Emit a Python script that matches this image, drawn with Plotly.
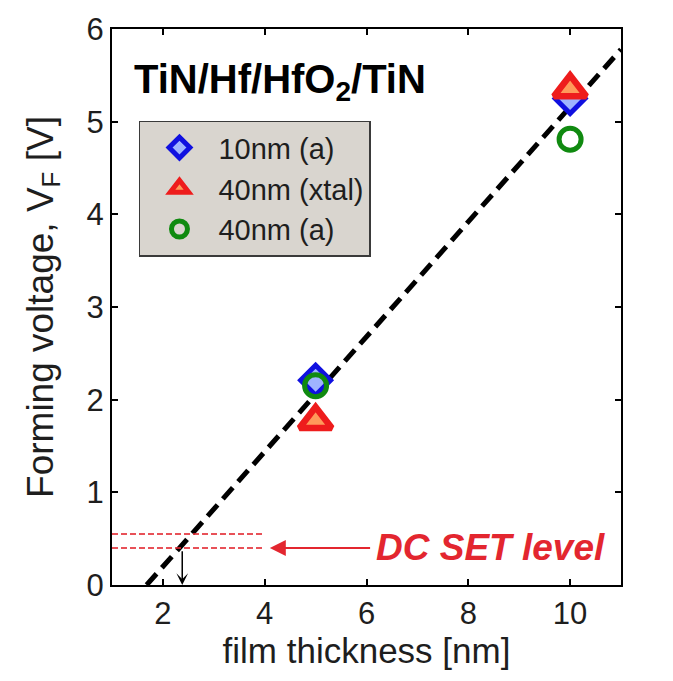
import plotly.graph_objects as go

# Forming voltage vs. film thickness
thickness = [5, 10]
vf_10nm_a = [2.21, 5.25]
vf_40nm_xtal = [1.77, 5.35]
vf_40nm_a = [2.15, 4.81]

# linear trend line
fit_x = [1.68, 11.0]
fit_y = [0.0, 5.78]

# DC SET level band
set_levels = [0.40, 0.55]
set_x = [1.0, 4.0]
crossing_x = 2.38

x_ticks = [2, 4, 6, 8, 10]
y_ticks = [0, 1, 2, 3, 4, 5, 6]

FONT = "Liberation Sans, Arial, Helvetica, sans-serif"
RED = "#e3262f"
TXT = "#1e1e1e"

fig = go.Figure()

fig.add_trace(go.Scatter(
    x=fit_x, y=fit_y, mode="lines", showlegend=False,
    line=dict(color="black", width=5, dash="15px,8px"),
))

for lvl in set_levels:
    fig.add_trace(go.Scatter(
        x=set_x, y=[lvl, lvl], mode="lines", showlegend=False,
        line=dict(color=RED, width=2, dash="6px,3px"), opacity=0.8,
    ))

fig.add_trace(go.Scatter(
    x=thickness, y=vf_10nm_a, mode="markers", name="10nm (a)",
    marker=dict(symbol="diamond", size=23, color="#9fb4ff",
                line=dict(color="#1010e0", width=5)),
))
fig.add_trace(go.Scatter(
    x=thickness, y=vf_40nm_xtal, mode="markers", name="40nm (xtal)",
    marker=dict(symbol="triangle-up", size=28, color="#ff9a5a",
                line=dict(color="#ee1c1c", width=6.5)),
))
fig.add_trace(go.Scatter(
    x=thickness, y=vf_40nm_a, mode="markers", name="40nm (a)",
    marker=dict(symbol="circle-open", size=22, color="#108a10",
                line=dict(color="#108a10", width=5)),
))

fig.add_annotation(
    x=0.04, y=0.905, xref="paper", yref="paper", xanchor="left", yanchor="middle",
    text="<b>TiN/Hf/HfO<sub>2</sub>/TiN</b>", showarrow=False,
    font=dict(family=FONT, size=40, color="black"),
)

# arrow from label to the lower SET level
fig.add_annotation(
    x=4.1, y=set_levels[0], ax=6.1, ay=set_levels[0],
    xref="x", yref="y", axref="x", ayref="y",
    text="", showarrow=True, arrowhead=2, arrowsize=1.6, arrowwidth=2,
    arrowcolor=RED,
)
fig.add_annotation(
    x=6.15, y=set_levels[0], xref="x", yref="y", xanchor="left", yanchor="middle",
    text="<b><i>DC SET level</i></b>", showarrow=False,
    font=dict(family=FONT, size=37, color=RED),
)
# arrow down to the thickness axis
fig.add_annotation(
    x=crossing_x, y=0.0, ax=crossing_x, ay=set_levels[0] - 0.02,
    xref="x", yref="y", axref="x", ayref="y",
    text="", showarrow=True, arrowhead=3, arrowsize=1.3, arrowwidth=1.5,
    arrowcolor="black",
)

axis_common = dict(
    showgrid=False, zeroline=False, showline=True, linecolor="black", linewidth=2,
    mirror="ticks", ticks="inside", ticklen=6, tickwidth=1.5, tickcolor="black",
    tickfont=dict(family=FONT, size=31, color=TXT),
)
fig.update_xaxes(
    range=[1, 11], tickvals=x_ticks, **axis_common,
    title=dict(text="film thickness [nm]", font=dict(family=FONT, size=35, color=TXT),
               standoff=5),
)
fig.update_yaxes(
    range=[0, 6], tickvals=y_ticks, **axis_common,
    title=dict(text="Forming voltage, V<sub>F</sub> [V]",
               font=dict(family=FONT, size=37, color=TXT), standoff=22),
)

fig.update_layout(
    width=673, height=681,
    margin=dict(l=112, r=52, t=24, b=96),
    paper_bgcolor="white", plot_bgcolor="white",
    font=dict(family=FONT),
    legend=dict(
        x=0.053, y=0.835, xanchor="left", yanchor="top",
        bgcolor="#d9d5cf", bordercolor="#3a3a3a", borderwidth=1.5,
        font=dict(family=FONT, size=29, color=TXT),
        itemsizing="trace", itemwidth=68, tracegroupgap=0,
    ),
)

fig.write_html("out.html")
